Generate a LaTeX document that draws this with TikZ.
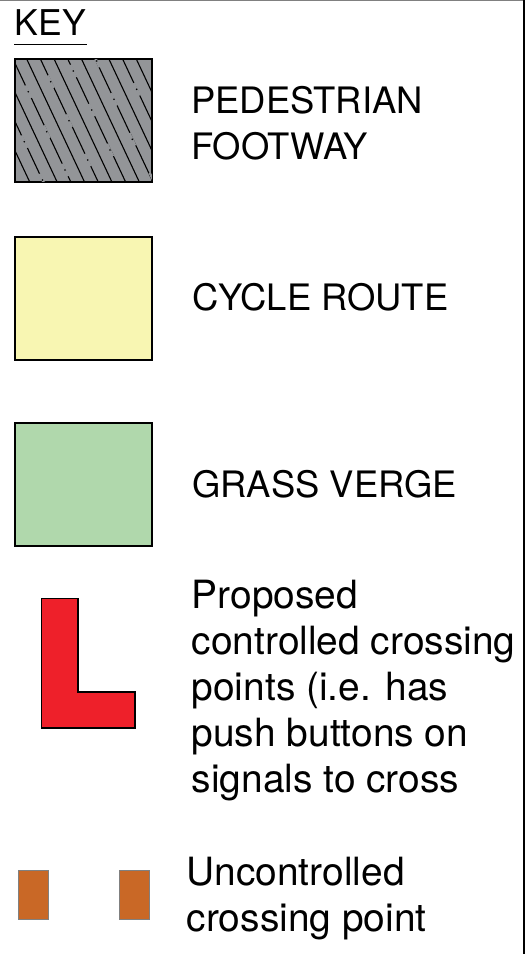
\documentclass[tikz,border=0pt]{standalone}
\usepackage{fontspec}
\setmainfont{TeX Gyre Heros}
\definecolor{footgrey}{RGB}{147,149,152}
\definecolor{cycleyellow}{RGB}{248,246,178}
\definecolor{vergegreen}{RGB}{176,216,172}
\definecolor{crossred}{RGB}{238,32,42}
\definecolor{pointorange}{RGB}{201,104,38}
\tikzset{
	swatch/.style={shape=rectangle,draw=black,line width=1.3pt,inner sep=0pt,minimum width=137pt,minimum height=123pt},
	point/.style={shape=rectangle,draw=gray,line width=0.5pt,fill=pointorange,inner sep=0pt,minimum width=30pt,minimum height=49pt},
	keytext/.style={anchor=base west,align=left,inner sep=0pt,font=\fontsize{36.4}{46}\selectfont},
	longtext/.style={keytext,font=\fontsize{38.9}{46}\selectfont}
}
\begin{document}
\begin{tikzpicture}[x=1pt,y=-1pt]
	\useasboundingbox (0,0) rectangle (528,954);
	\draw[gray,line width=1.5pt] (0,0.7) -- (524,0.7);
	\draw[black,line width=1.5pt] (524,0) -- (524,954);
	
	\node[keytext,font=\fontsize{35.5}{46}\selectfont] (key) at (14.5,35.5) {KEY};
	\draw[line width=1pt] (14,44.5) -- (87,44.5);
	
	\node[swatch,fill=footgrey] (foot) at (83.5,120.5) {};
	\begin{scope}
		\clip (foot.north west) rectangle (foot.south east);
		\foreach \startX in {-41.8,-28.1,...,137}
		{
			\draw[line width=1.1pt] (\startX,59) -- ++(58.2,123.8);
		}
		\foreach \dotX/\dotY in {28.3/91.7,50.7/81.7,73.3/71,96.7/61,24.3/141.7,46.7/131.7,69/120.7,
			91.7/110,114/99.3,136.7/89.3,65/170,87.7/160,110/150,132.3/139.3,42.5/180,152.6/179}
		{
			\draw[footgrey,line width=2.4pt] (\dotX-2.9,\dotY-6.2) -- (\dotX+2.9,\dotY+6.2);
			\fill (\dotX,\dotY) circle (0.9pt);
		}
	\end{scope}
	\draw[line width=1.3pt] (foot.north west) rectangle (foot.south east);
	\node[keytext] (footlabel) at (191,159) {PEDESTRIAN\\FOOTWAY};
	
	\node[swatch,fill=cycleyellow] (cycle) at (83.5,298.5) {};
	\node[keytext] (cyclelabel) at (192,310) {CYCLE ROUTE};
	
	\node[swatch,fill=vergegreen] (verge) at (83.5,484.5) {};
	\node[keytext] (vergelabel) at (192,497) {GRASS VERGE};
	
	\draw[line width=1.3pt,fill=crossred] (41.5,598.5) -- (78,598.5) -- (78,692) -- (135,692) -- (135,728) -- (41.5,728) -- cycle;
	\node[longtext] (crosslabel) at (191.5,792) {Proposed\\controlled crossing\\points (i.e. has\\push buttons on\\signals to cross};
	
	\node[point] (pointa) at (33.5,895) {};
	\node[point] (pointb) at (134.5,895) {};
	\node[longtext] (pointlabel) at (186.5,931) {Uncontrolled\\crossing point};
\end{tikzpicture}
\end{document}
